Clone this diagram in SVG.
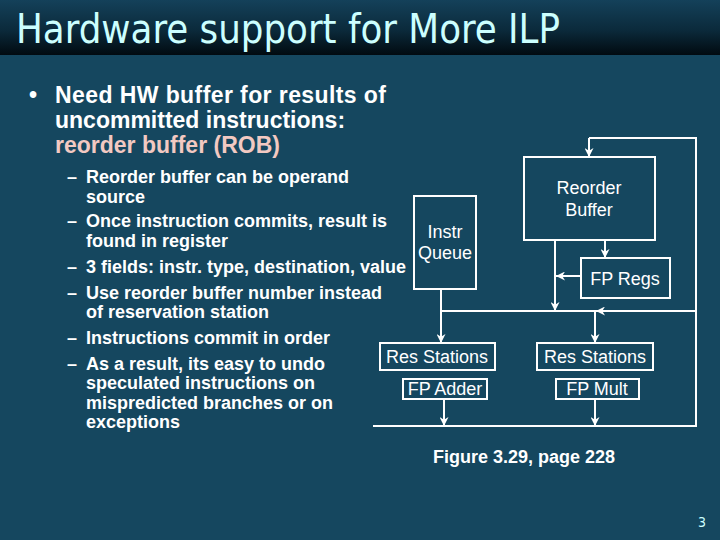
<svg xmlns="http://www.w3.org/2000/svg" width="720" height="540" viewBox="0 0 720 540">
<defs>
<linearGradient id="tb" x1="0" y1="0" x2="0" y2="1">
<stop offset="0" stop-color="#14415a"/>
<stop offset="0.55" stop-color="#0b2a3b"/>
<stop offset="1" stop-color="#010a10"/>
</linearGradient>
<marker id="ah" viewBox="0 0 10 10" refX="10" refY="5" markerWidth="9" markerHeight="9" markerUnits="userSpaceOnUse" orient="auto">
<path d="M0,0 L10,5 L0,10 L3,5 Z" fill="#ffffff"/>
</marker>
<style>
.title{font-family:"DejaVu Sans Condensed","DejaVu Sans",sans-serif;font-size:40px;fill:#ccffff}
.b1{font-family:"Liberation Sans",Arial,sans-serif;font-weight:bold;font-size:23px;fill:#ffffff}
.b2{font-family:"Liberation Sans",Arial,sans-serif;font-weight:bold;font-size:18px;fill:#ffffff}
.rob{fill:#f2c9c2}
.lbl{font-family:"Liberation Sans",Arial,sans-serif;font-size:18px;fill:#ffffff;text-anchor:middle}
.box{fill:none;stroke:#ffffff;stroke-width:2}
.wire{fill:none;stroke:#ffffff;stroke-width:2}
.arr{fill:none;stroke:#ffffff;stroke-width:2;marker-end:url(#ah)}
.pg{font-family:"DejaVu Sans Condensed","DejaVu Sans",sans-serif;font-size:14px;fill:#ccffff}
</style>
</defs>
<rect x="0" y="0" width="720" height="540" fill="#15475f"/>
<rect x="0" y="0" width="720" height="55" fill="url(#tb)"/>
<text class="title" x="16" y="43" textLength="544" lengthAdjust="spacingAndGlyphs">Hardware support for More ILP</text>

<g id="bullets">
<text class="b1" x="29" y="103">•</text>
<text class="b1" x="55" y="103" textLength="331" lengthAdjust="spacing">Need HW buffer for results of</text>
<text class="b1" x="55" y="128">uncommitted instructions:</text>
<text class="b1 rob" x="55" y="153">reorder buffer (ROB)</text>
<text class="b2" x="67" y="183">–</text><text class="b2" x="86" y="183">Reorder buffer can be operand</text>
<text class="b2" x="86" y="203">source</text>
<text class="b2" x="67" y="227">–</text><text class="b2" x="86" y="227">Once instruction commits, result is</text>
<text class="b2" x="86" y="247">found in register</text>
<text class="b2" x="67" y="273">–</text><text class="b2" x="86" y="273">3 fields: instr. type, destination, value</text>
<text class="b2" x="67" y="299">–</text><text class="b2" x="86" y="299">Use reorder buffer number instead</text>
<text class="b2" x="86" y="318">of reservation station</text>
<text class="b2" x="67" y="344">–</text><text class="b2" x="86" y="344">Instructions commit in order</text>
<text class="b2" x="67" y="370">–</text><text class="b2" x="86" y="370">As a result, its easy to undo</text>
<text class="b2" x="86" y="389">speculated instructions on</text>
<text class="b2" x="86" y="409">mispredicted branches or on</text>
<text class="b2" x="86" y="428">exceptions</text>
</g>

<g id="connectors">
<path class="wire" d="M373,426 H696 V138 H589"/>
<path class="arr" d="M589,138 V157"/>
<path class="arr" d="M696,311 H596"/>
<path class="wire" d="M597,311 H441"/>
<path class="arr" d="M555,240 V311"/>
<path class="arr" d="M605,240 V258"/>
<path class="arr" d="M581,276 H556"/>
<path class="arr" d="M441,289 V343"/>
<path class="arr" d="M595,311 V343"/>
<path class="arr" d="M444,399 V426"/>
<path class="arr" d="M595,399 V426"/>
</g>

<g id="rob">
<rect class="box" x="524" y="157" width="131" height="83"/>
<text class="lbl" x="589" y="194">Reorder</text>
<text class="lbl" x="589" y="216">Buffer</text>
</g>
<g id="instrq">
<rect class="box" x="414" y="196" width="62" height="93"/>
<text class="lbl" x="445" y="238">Instr</text>
<text class="lbl" x="445" y="259">Queue</text>
</g>
<g id="fpregs">
<rect class="box" x="581" y="258" width="89" height="40"/>
<text class="lbl" x="625" y="285">FP Regs</text>
</g>
<g id="rs1">
<rect class="box" x="380" y="343" width="115" height="27"/>
<text class="lbl" x="437" y="363">Res Stations</text>
</g>
<g id="fpadder">
<rect class="box" x="403" y="379" width="84" height="20"/>
<text class="lbl" x="445" y="395">FP Adder</text>
</g>
<g id="rs2">
<rect class="box" x="537" y="343" width="116" height="27"/>
<text class="lbl" x="595" y="363">Res Stations</text>
</g>
<g id="fpmult">
<rect class="box" x="556" y="379" width="83" height="20"/>
<text class="lbl" x="597" y="395">FP Mult</text>
</g>

<text class="b2" x="524" y="463" text-anchor="middle">Figure 3.29, page 228</text>
<text class="pg" x="698" y="527">3</text>
</svg>
